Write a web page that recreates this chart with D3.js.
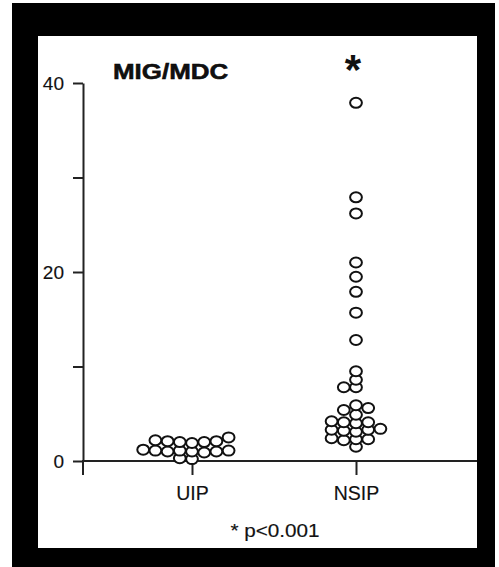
<!DOCTYPE html>
<html>
<head>
<meta charset="utf-8">
<script src="https://cdn.jsdelivr.net/npm/d3@7"></script>
<style>
  html, body { margin: 0; padding: 0; background: #fff; }
  svg { display: block; }
  text { font-family: "Liberation Sans", Arial, sans-serif; fill: #111; }
</style>
</head>
<body>
<svg id="chart" width="499" height="567"></svg>
<script>
// ---- data ----
const categories = ["UIP", "NSIP"];
const uipValues = [0.2, 0.3, 0.9, 1.0, 1.0, 1.0, 1.1, 1.1, 1.1, 1.2,
                   1.9, 2.0, 2.0, 2.1, 2.1, 2.2, 2.5];
const nsipValues = [37.9, 27.9, 26.2, 21.0, 19.5, 17.9, 15.7, 12.8, 9.5, 8.6,
                    7.8, 7.8, 5.9, 5.6, 5.4, 4.9, 4.2, 4.1, 4.1, 4.0,
                    3.4, 3.3, 3.3, 3.2, 3.1, 2.4, 2.3, 2.3, 2.2, 1.5];
const yTicks = [0, 10, 20, 30, 40];
const yTickLabels = ["0", "", "20", "", "40"];
const title = "MIG/MDC";
const footnote = "* p<0.001";

// ---- layout ----
const svg = d3.select("#chart");
const W = 499, H = 567;
svg.append("rect").attr("x", 0).attr("y", 0).attr("width", W).attr("height", H).attr("fill", "#fff");
svg.append("rect").attr("x", 12).attr("y", 3).attr("width", 483).attr("height", 564).attr("fill", "#000");
svg.append("rect").attr("x", 38).attr("y", 36).attr("width", 439).attr("height", 512).attr("fill", "#fff");

const axisX0 = 83, axisX1 = 477;
const y = d3.scaleLinear().domain([0, 40]).range([461, 83]);
const x = d3.scalePoint().domain(categories).range([192, 356]);

const axisColor = "#222";
const textStroke = 0.15;

// y axis
const yAxis = d3.axisLeft(y).tickValues(yTicks).tickSize(10).tickSizeOuter(0).tickPadding(9)
  .tickFormat((d, i) => yTickLabels[i]);
const gy = svg.append("g").attr("transform", `translate(${axisX0},0)`).call(yAxis);
gy.select(".domain").attr("stroke", axisColor).attr("stroke-width", 2);
gy.selectAll(".tick line").attr("stroke", axisColor).attr("stroke-width", 2);
gy.selectAll(".tick text").attr("font-size", 19).attr("fill", "#111")
  .attr("stroke", "#111").attr("stroke-width", textStroke)
  .style("font-family", "Liberation Sans, Arial, sans-serif");

// x axis
const xAxis = d3.axisBottom(x).tickSize(14).tickSizeOuter(0).tickPadding(11);
const gx = svg.append("g").attr("transform", `translate(0,${y(0)})`).call(xAxis);
gx.select(".domain").remove();
gx.selectAll(".tick line").attr("stroke", axisColor).attr("stroke-width", 2);
gx.selectAll(".tick text").attr("font-size", 19.5).attr("fill", "#111")
  .attr("stroke", "#111").attr("stroke-width", textStroke)
  .style("font-family", "Liberation Sans, Arial, sans-serif");
gx.append("line").attr("x1", axisX0 - 1).attr("x2", axisX1).attr("y1", 0).attr("y2", 0)
  .attr("stroke", axisColor).attr("stroke-width", 2);
gx.append("line").attr("x1", axisX0).attr("x2", axisX0).attr("y1", 0).attr("y2", 14)
  .attr("stroke", axisColor).attr("stroke-width", 2);

// ---- dot layout (column dodge) ----
const step = 12.2, minDy = 6.8;
function dodge(values) {
  const sorted = values.slice().sort((a, b) => a - b);
  const placed = [];
  const order = [0];
  for (let k = 1; k < 10; k++) { order.push(-k, k); }
  sorted.forEach(v => {
    const py = y(v);
    for (const c of order) {
      const hit = placed.some(p => p.col === c && Math.abs(p.py - py) < minDy);
      if (!hit) { placed.push({ v, col: c, py }); break; }
    }
  });
  return placed;
}
const groups = [
  { cat: "UIP", values: uipValues },
  { cat: "NSIP", values: nsipValues }
];
groups.forEach(g => {
  const pts = dodge(g.values);
  svg.append("g").selectAll("ellipse").data(pts).join("ellipse")
    .attr("cx", d => x(g.cat) + d.col * step)
    .attr("cy", d => d.py)
    .attr("rx", 5.9).attr("ry", 5.0)
    .attr("fill", "#fff").attr("stroke", "#111").attr("stroke-width", 2);
});

// ---- texts ----
svg.append("text").attr("transform", "translate(113,79) scale(1.18,1)")
  .attr("font-size", 22).attr("font-weight", "bold").attr("fill", "#000")
  .attr("stroke", "#000").attr("stroke-width", 0.5).text(title);
svg.append("text").attr("x", x("NSIP") - 3).attr("y", 84).attr("text-anchor", "middle")
  .attr("font-size", 42).attr("font-weight", "bold").attr("fill", "#000").text("*");
svg.append("text").attr("transform", "translate(275,537) scale(1.12,1)").attr("text-anchor", "middle")
  .attr("stroke", "#111").attr("stroke-width", textStroke)
  .attr("font-size", 18.5).text(footnote);
</script>
</body>
</html>
